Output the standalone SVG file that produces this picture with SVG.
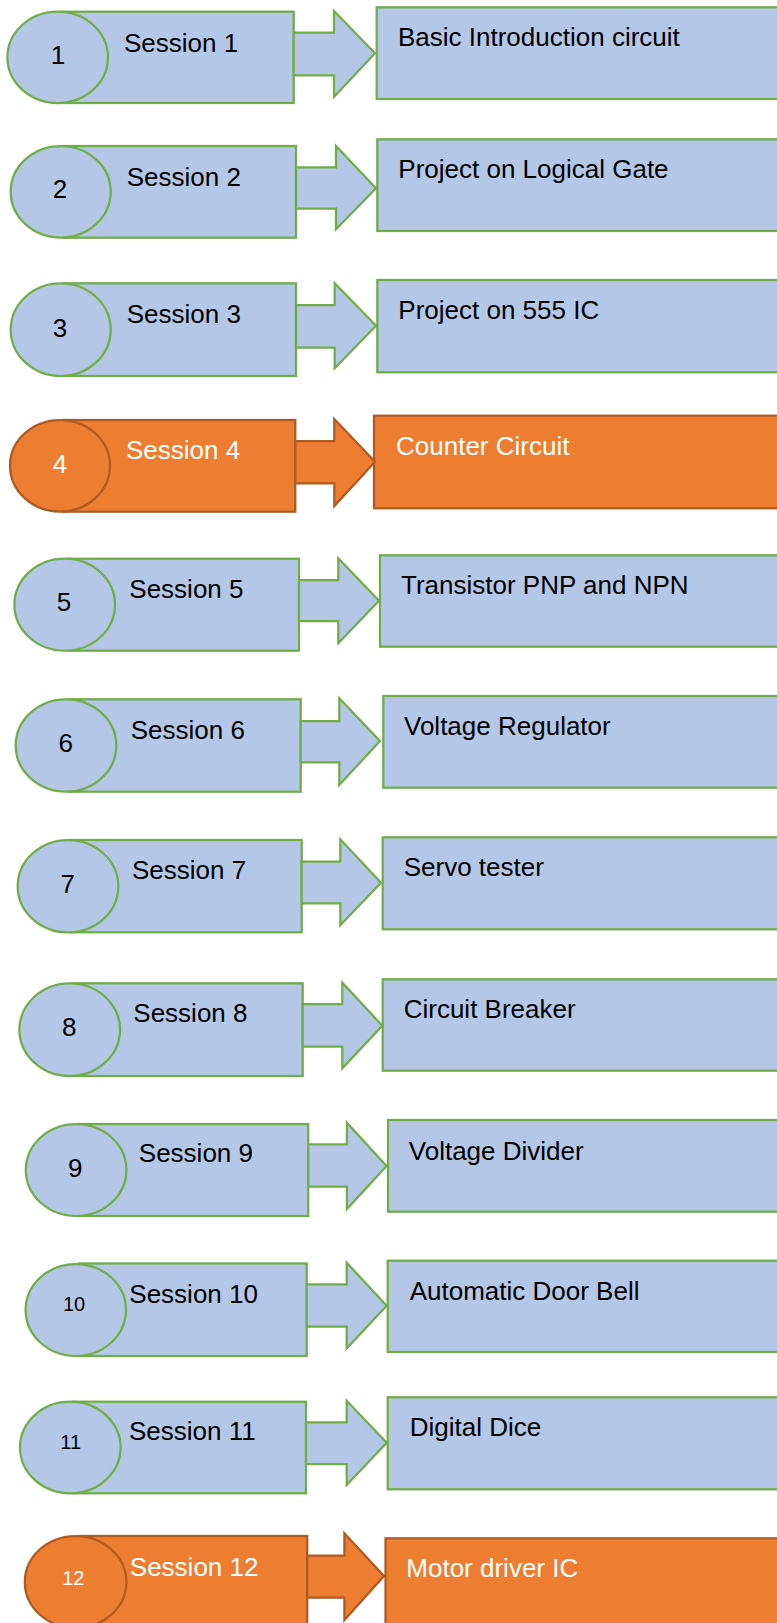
<svg xmlns="http://www.w3.org/2000/svg" width="777" height="1623" viewBox="0 0 777 1623">
<style>
.b{fill:#B4C7E7;stroke:#70AD47;stroke-width:2.25}
.o{fill:#ED7D31;stroke:#AE5A21;stroke-width:2.25}
text{font-family:"Liberation Sans",Arial,sans-serif;font-size:26px}
.tb{fill:#000}
.tw{fill:#fff}
.num{text-anchor:middle}
.sm{font-size:20px}
</style>
<rect width="777" height="1623" fill="#fff"/>

<g id="session1">
<rect class="b" x="61" y="11.7" width="232.7" height="91.3"/>
<ellipse class="b" cx="57.7" cy="57.3" rx="50.3" ry="45.7"/>
<text class="tb num" x="58" y="64">1</text>
<text class="tb" x="124" y="52">Session 1</text>
</g>
<g id="topic1">
<rect class="b" x="376.7" y="7.3" width="430" height="91.7"/>
<text class="tb" x="398" y="45.7">Basic Introduction circuit</text>
</g>

<g id="session2">
<rect class="b" x="64" y="146" width="232" height="91.7"/>
<ellipse class="b" cx="60.7" cy="191.8" rx="50" ry="45.8"/>
<text class="tb num" x="60" y="198.3">2</text>
<text class="tb" x="126.7" y="185.7">Session 2</text>
</g>
<g id="topic2">
<rect class="b" x="377.3" y="139.3" width="430" height="91.7"/>
<text class="tb" x="398.3" y="178.3">Project on Logical Gate</text>
</g>

<g id="session3">
<rect class="b" x="64" y="283.3" width="232" height="92.7"/>
<ellipse class="b" cx="60.7" cy="329.7" rx="50" ry="46.3"/>
<text class="tb num" x="60" y="336.7">3</text>
<text class="tb" x="126.7" y="322.7">Session 3</text>
</g>
<g id="topic3">
<rect class="b" x="377.3" y="280" width="430" height="92.3"/>
<text class="tb" x="398.3" y="319">Project on 555 IC</text>
</g>

<g id="session4">
<rect class="o" x="63" y="420" width="232.3" height="91.7"/>
<ellipse class="o" cx="60" cy="465.8" rx="50" ry="45.8"/>
<text class="tw num" x="60" y="472.7">4</text>
<text class="tw" x="126" y="459">Session 4</text>
</g>
<g id="topic4">
<rect class="o" x="374" y="415.7" width="430" height="92.6"/>
<text class="tw" x="396" y="455">Counter Circuit</text>
</g>

<g id="session5">
<rect class="b" x="68" y="558.7" width="231" height="92"/>
<ellipse class="b" cx="64.7" cy="604.7" rx="50.3" ry="46"/>
<text class="tb num" x="64" y="611">5</text>
<text class="tb" x="129.3" y="598.3">Session 5</text>
</g>
<g id="topic5">
<rect class="b" x="380" y="555.3" width="430" height="91.4"/>
<text class="tb" x="401" y="594.3">Transistor PNP and NPN</text>
</g>

<g id="session6">
<rect class="b" x="69" y="699.3" width="231.7" height="92.4"/>
<ellipse class="b" cx="66" cy="745.5" rx="50.3" ry="46.2"/>
<text class="tb num" x="65.7" y="751.7">6</text>
<text class="tb" x="130.7" y="739">Session 6</text>
</g>
<g id="topic6">
<rect class="b" x="383.3" y="696" width="430" height="91.7"/>
<text class="tb" x="404" y="735">Voltage Regulator</text>
</g>

<g id="session7">
<rect class="b" x="71" y="840" width="230.7" height="92.3"/>
<ellipse class="b" cx="68" cy="886.2" rx="50.3" ry="46.2"/>
<text class="tb num" x="67.7" y="892.7">7</text>
<text class="tb" x="132" y="879.3">Session 7</text>
</g>
<g id="topic7">
<rect class="b" x="382.7" y="837.3" width="430" height="92"/>
<text class="tb" x="403.7" y="876.3">Servo tester</text>
</g>

<g id="session8">
<rect class="b" x="73" y="983.3" width="229.7" height="92.7"/>
<ellipse class="b" cx="69.7" cy="1029.7" rx="50.3" ry="46.3"/>
<text class="tb num" x="69.3" y="1036">8</text>
<text class="tb" x="133.3" y="1021.7">Session 8</text>
</g>
<g id="topic8">
<rect class="b" x="382.7" y="979.3" width="430" height="91.4"/>
<text class="tb" x="403.7" y="1018.3">Circuit Breaker</text>
</g>

<g id="session9">
<rect class="b" x="79" y="1124" width="229.2" height="92"/>
<ellipse class="b" cx="76.1" cy="1170" rx="50.3" ry="46"/>
<text class="tb num" x="75.3" y="1176.7">9</text>
<text class="tb" x="138.8" y="1162.3">Session 9</text>
</g>
<g id="topic9">
<rect class="b" x="388" y="1120" width="430" height="91.7"/>
<text class="tb" x="408.8" y="1160">Voltage Divider</text>
</g>

<g id="session10">
<rect class="b" x="79" y="1263.5" width="227.7" height="92.5"/>
<ellipse class="b" cx="75.8" cy="1310" rx="50.2" ry="46"/>
<text class="tb num sm" x="74" y="1311">10</text>
<text class="tb" x="129.3" y="1302.7">Session 10</text>
</g>
<g id="topic10">
<rect class="b" x="387.7" y="1260.7" width="430" height="91.3"/>
<text class="tb" x="409.7" y="1300">Automatic Door Bell</text>
</g>

<g id="session11">
<rect class="b" x="73.5" y="1401.7" width="232.5" height="91.6"/>
<ellipse class="b" cx="70.3" cy="1447.5" rx="50.3" ry="45.8"/>
<text class="tb num sm" x="70.7" y="1449">11</text>
<text class="tb" x="129" y="1440">Session 11</text>
</g>
<g id="topic11">
<rect class="b" x="387.7" y="1397.3" width="430" height="92"/>
<text class="tb" x="409.7" y="1436.3">Digital Dice</text>
</g>

<g id="session12">
<rect class="o" x="79" y="1536" width="228.2" height="92"/>
<ellipse class="o" cx="75.6" cy="1582" rx="50.8" ry="46"/>
<text class="tw num sm" x="73.3" y="1585">12</text>
<text class="tw" x="129.8" y="1576">Session 12</text>
</g>
<g id="topic12">
<rect class="o" x="385.5" y="1538.3" width="430" height="100"/>
<text class="tw" x="406.3" y="1577.3">Motor driver IC</text>
</g>

<g id="connectors">
<polygon class="b" points="293.7,32.7 334,32.7 334,11 375,53.3 334,97 334,75.3 293.7,75.3"/>
<polygon class="b" points="296,167.3 336,167.3 336,146 376,188.3 336,229.3 336,208.7 296,208.7"/>
<polygon class="b" points="296,305 334.7,305 334.7,283.3 376,325.7 334.7,368.3 334.7,347.7 296,347.7"/>
<polygon class="o" points="295.3,441 334.3,441 334.3,419 375,461.7 334.3,506 334.3,483.3 295.3,483.3"/>
<polygon class="b" points="299,580 338.3,580 338.3,558.3 379,600.7 338.3,643.3 338.3,621 299,621"/>
<polygon class="b" points="300.7,721 339.3,721 339.3,698.3 380,741 339.3,785 339.3,762.3 300.7,762.3"/>
<polygon class="b" points="301.7,861.7 340.3,861.7 340.3,839.3 381,882.7 340.3,925.3 340.3,903.3 301.7,903.3"/>
<polygon class="b" points="302.7,1004 342.3,1004 342.3,982.7 382.3,1025.7 342.3,1068.3 342.3,1046.7 302.7,1046.7"/>
<polygon class="b" points="308.2,1144.3 346.9,1144.3 346.9,1122.7 386.5,1166 346.9,1209 346.9,1186.7 308.2,1186.7"/>
<polygon class="b" points="306.7,1284.3 346.7,1284.3 346.7,1262.7 386.7,1305.7 346.7,1348.3 346.7,1326.7 306.7,1326.7"/>
<polygon class="b" points="306,1422.3 346.7,1422.3 346.7,1400.7 386.7,1442.7 346.7,1485 346.7,1464 306,1464"/>
<polygon class="o" points="307.2,1555.7 344.4,1555.7 344.4,1533.3 384,1576 344.4,1620 344.4,1597.7 307.2,1597.7"/>
</g>
</svg>
